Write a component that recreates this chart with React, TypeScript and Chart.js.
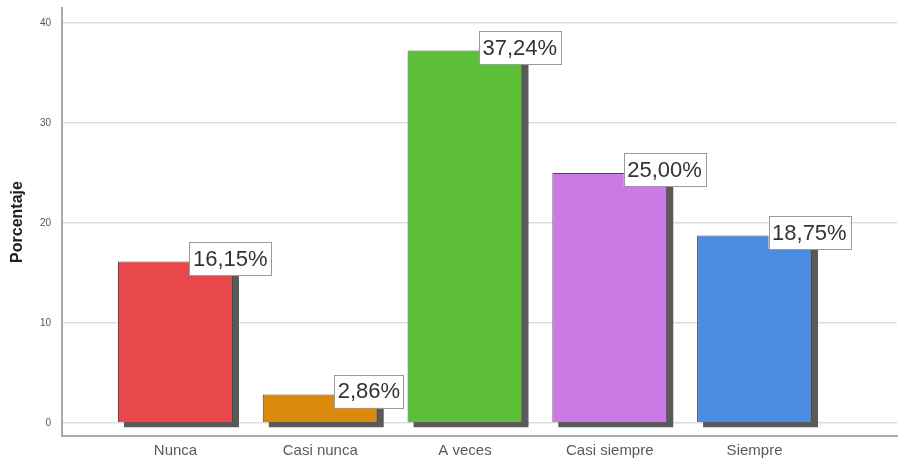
import React, { useEffect, useRef } from "react";
import { Chart, registerables } from "chart.js";

Chart.register(...registerables);

const categories = ["Nunca", "Casi nunca", "A veces", "Casi siempre", "Siempre"];
const values = [16.15, 2.86, 37.24, 25.0, 18.75];
const barColors = ["#E8484B", "#DC8A0C", "#5CBF37", "#C97BE3", "#4B8CE0"];
const yTicks = [0, 10, 20, 30, 40];
const yTitle = "Porcentaje";

const shadowPlugin = {
  id: "barShadow",
  beforeDatasetsDraw(chart: any) {
    const ctx = chart.ctx;
    const meta = chart.getDatasetMeta(0);
    ctx.save();
    ctx.fillStyle = "#5a5a5a";
    meta.data.forEach((el: any) => {
      const w = el.width;
      ctx.fillRect(el.x - w / 2 + 6, el.y + 5, w, el.base - el.y);
    });
    ctx.restore();
  },
  afterDatasetsDraw(chart: any) {
    const ctx = chart.ctx;
    const meta = chart.getDatasetMeta(0);
    ctx.save();
    ctx.font = "22px Arial, 'Liberation Sans', sans-serif";
    ctx.textBaseline = "middle";
    ctx.textAlign = "left";
    meta.data.forEach((el: any, i: number) => {
      const text = values[i].toFixed(2).replace(".", ",") + "%";
      const tw = ctx.measureText(text).width;
      const bw = tw + 7;
      const bh = 33;
      const left = el.x + 14;
      const cy = el.y - 3;
      ctx.fillStyle = "#ffffff";
      ctx.fillRect(left, cy - bh / 2, bw, bh);
      ctx.strokeStyle = "#9a9a9a";
      ctx.lineWidth = 1;
      ctx.strokeRect(Math.round(left) + 0.5, Math.round(cy - bh / 2) + 0.5, Math.round(bw), bh);
      ctx.fillStyle = "#333333";
      ctx.fillText(text, left + 3.5, cy + 1);
    });
    ctx.restore();
  },
};

export default function App() {
  const canvasRef = useRef<HTMLCanvasElement | null>(null);

  useEffect(() => {
    const canvas = canvasRef.current;
    if (!canvas) return;
    const chart = new Chart(canvas, {
      type: "bar",
      data: {
        datasets: [
          {
            data: values.map((v, i) => ({ x: i, y: v })),
            backgroundColor: barColors,
            borderColor: "#4a4a4a",
            borderWidth: 1,
            categoryPercentage: 1,
            barPercentage: 0.794,
          },
        ],
      },
      options: {
        animation: false,
        responsive: false,
        maintainAspectRatio: false,
        layout: { padding: { top: 8, right: 2, left: 0, bottom: 0 } },
        plugins: {
          legend: { display: false },
          tooltip: { enabled: false },
        },
        scales: {
          x: {
            type: "linear",
            offset: false,
            min: -0.784,
            max: 4.984,
            afterBuildTicks: (scale: any) => {
              scale.ticks = categories.map((_, i) => ({ value: i }));
            },
            afterFit: (scale: any) => {
              scale.height = 29;
              scale.paddingLeft = 0;
              scale.paddingRight = 0;
            },
            ticks: {
              callback: (v: any) => categories[v as number] ?? "",
              font: { family: "Arial, 'Liberation Sans', sans-serif", size: 15 },
              color: "#5a5a5a",
              padding: 6,
              maxRotation: 0,
              autoSkip: false,
            },
            grid: { display: false, drawTicks: false, offset: false },
            border: { display: true, color: "#aaaaaa", width: 2 },
          },
          y: {
            min: -1.3,
            max: 41.5,
            afterBuildTicks: (scale: any) => {
              scale.ticks = yTicks.map((v) => ({ value: v }));
            },
            afterFit: (scale: any) => {
              scale.width = 62;
              scale.paddingTop = 0;
              scale.paddingBottom = 0;
            },
            ticks: {
              font: { family: "Arial, 'Liberation Sans', sans-serif", size: 10 },
              color: "#555555",
              padding: 11,
            },
            grid: { color: "#dedede", lineWidth: 1.5, drawTicks: false },
            border: { display: true, color: "#aaaaaa", width: 2 },
            title: {
              display: true,
              text: yTitle,
              font: { family: "Arial, 'Liberation Sans', sans-serif", size: 16, weight: "bold" },
              color: "#222222",
              padding: { top: 8, bottom: 0 },
            },
          },
        },
      },
      plugins: [shadowPlugin],
    });
    return () => chart.destroy();
  }, []);

  return (
    <div style={{ position: "fixed", left: 0, top: 0, width: 899, height: 465, background: "#ffffff" }}>
      <canvas ref={canvasRef} width={899} height={465} style={{ width: 899, height: 465 }} />
    </div>
  );
}
